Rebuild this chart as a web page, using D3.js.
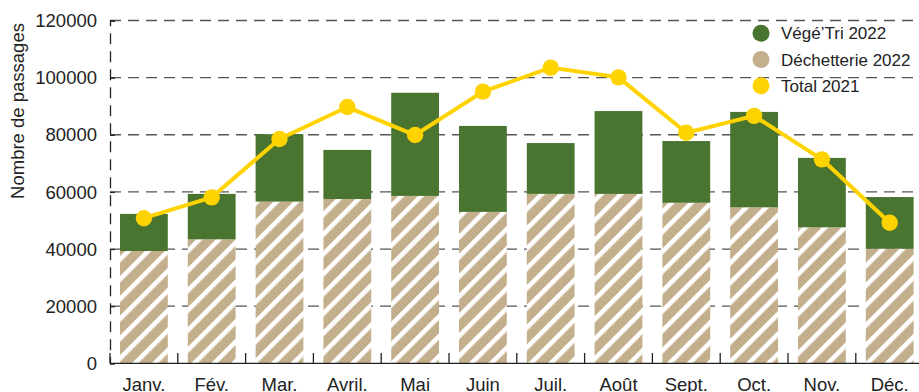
<!DOCTYPE html>
<html lang="fr">
<head>
<meta charset="utf-8">
<script src="https://cdn.jsdelivr.net/npm/d3@7/dist/d3.min.js"></script>
<style>
  html, body { margin: 0; padding: 0; background: #fff; }
  svg { display: block; font-family: "Liberation Sans", Arial, Helvetica, sans-serif; }
</style>
</head>
<body>
<svg id="chart" width="919" height="392"></svg>
<script>
// Monthly visits: déchetterie + Végé'Tri (2022, stacked) and 2021 total (line)
const months = ["Janv.", "Fév.", "Mar.", "Avril.", "Mai", "Juin", "Juil.", "Août", "Sept.", "Oct.", "Nov.", "Déc."];
const dechetterie2022 = [39300, 43400, 56600, 57500, 58600, 53000, 59300, 59300, 56200, 54600, 47600, 40100];
const vegetri2022 = [13000, 15900, 23600, 17200, 36100, 30100, 17800, 29000, 21600, 33400, 24300, 18100];
const total2021 = [50800, 58100, 78500, 89700, 79900, 95100, 103500, 100100, 80700, 86600, 71400, 49200];
const yTicks = [0, 20000, 40000, 60000, 80000, 100000, 120000];
const legendLabels = ["Végé’Tri 2022", "Déchetterie 2022", "Total 2021"];

const colors = { vegetri: "#4a7530", dechetterie: "#c3af8c", total: "#ffd300", grid: "#555", text: "#222" };

const svg = d3.select("#chart");

const x = d3.scaleBand().domain(months).range([110, 923.6]).paddingInner(0.295).paddingOuter(0.1475);
const y = d3.scaleLinear().domain([0, 120000]).range([363.3, 20.5]);

// Diagonal hatch for the déchetterie segment
const defs = svg.append("defs");
const pat = defs.append("pattern")
  .attr("id", "hatch").attr("patternUnits", "userSpaceOnUse")
  .attr("width", 14).attr("height", 14)
  .attr("patternTransform", "rotate(45)");
pat.append("rect").attr("width", 14).attr("height", 14).attr("fill", colors.dechetterie);
pat.append("rect").attr("x", 0).attr("width", 4.6).attr("height", 14).attr("fill", "#fff");

// Dashed horizontal grid
svg.append("g").selectAll("line").data(yTicks.filter(d => d > 0)).join("line")
  .attr("x1", 110).attr("x2", 919)
  .attr("y1", d => y(d)).attr("y2", d => y(d))
  .attr("stroke", colors.grid).attr("stroke-width", 1.3)
  .attr("stroke-dasharray", "11,7");

// Y axis (dashed spine, small inward ticks)
const yAxis = d3.axisRight(y).tickValues(yTicks).tickSize(5).tickFormat("");
const gy = svg.append("g").attr("transform", "translate(110,0)").call(yAxis);
gy.select(".domain").attr("stroke", colors.text).attr("stroke-width", 1.3).attr("stroke-dasharray", "11,7");
gy.selectAll(".tick line").attr("stroke", colors.text).attr("stroke-width", 1.3);

svg.append("g").selectAll("text").data(yTicks).join("text")
  .attr("x", 97).attr("y", d => y(d))
  .attr("dy", "0.36em").attr("text-anchor", "end")
  .attr("font-size", 18.5).attr("fill", colors.text)
  .text(d => d);

// Y title
svg.append("text")
  .attr("transform", "translate(24,111) rotate(-90)")
  .attr("text-anchor", "middle").attr("font-size", 18.5).attr("fill", colors.text)
  .text("Nombre de passages");

// X axis ticks at band boundaries, pointing up
const bounds = months.map(m => x(m) - x.step() * x.paddingInner() / 2);
svg.append("g").selectAll("line").data(bounds).join("line")
  .attr("x1", d => d).attr("x2", d => d)
  .attr("y1", 353).attr("y2", 363.3)
  .attr("stroke", colors.text).attr("stroke-width", 1.3);

// Stacked bars
const stackData = months.map((m, i) => ({ month: m, dechetterie: dechetterie2022[i], vegetri: vegetri2022[i] }));
const series = d3.stack().keys(["dechetterie", "vegetri"])(stackData);
svg.append("g").selectAll("g").data(series).join("g")
  .attr("fill", s => s.key === "dechetterie" ? "url(#hatch)" : colors.vegetri)
  .selectAll("rect").data(s => s).join("rect")
  .attr("x", d => x(d.data.month))
  .attr("width", x.bandwidth())
  .attr("y", d => y(d[1]))
  .attr("height", d => y(d[0]) - y(d[1]));

// X axis baseline
svg.append("line")
  .attr("x1", 110).attr("x2", 919).attr("y1", 363.3).attr("y2", 363.3)
  .attr("stroke", colors.text).attr("stroke-width", 1.3);

svg.append("g").selectAll("text").data(months).join("text")
  .attr("x", d => x(d) + x.bandwidth() / 2).attr("y", 391)
  .attr("text-anchor", "middle").attr("font-size", 18.5).attr("fill", colors.text)
  .text(d => d);

// 2021 total line
const line = d3.line().x((d, i) => x(months[i]) + x.bandwidth() / 2).y(d => y(d));
svg.append("path").datum(total2021)
  .attr("d", line).attr("fill", "none")
  .attr("stroke", colors.total).attr("stroke-width", 4).attr("stroke-linejoin", "round");
svg.append("g").selectAll("circle").data(total2021).join("circle")
  .attr("cx", (d, i) => x(months[i]) + x.bandwidth() / 2)
  .attr("cy", d => y(d)).attr("r", 8.2)
  .attr("fill", colors.total);

// Legend
const legendColors = [colors.vegetri, colors.dechetterie, colors.total];
const lg = svg.append("g").selectAll("g").data(legendLabels).join("g")
  .attr("transform", (d, i) => `translate(761,${33.3 + i * 26.2})`);
lg.append("circle").attr("r", 8.5).attr("fill", (d, i) => legendColors[i]);
lg.append("text").attr("x", 20).attr("dy", "0.36em")
  .attr("font-size", 17).attr("fill", colors.text).text(d => d);
</script>
</body>
</html>
